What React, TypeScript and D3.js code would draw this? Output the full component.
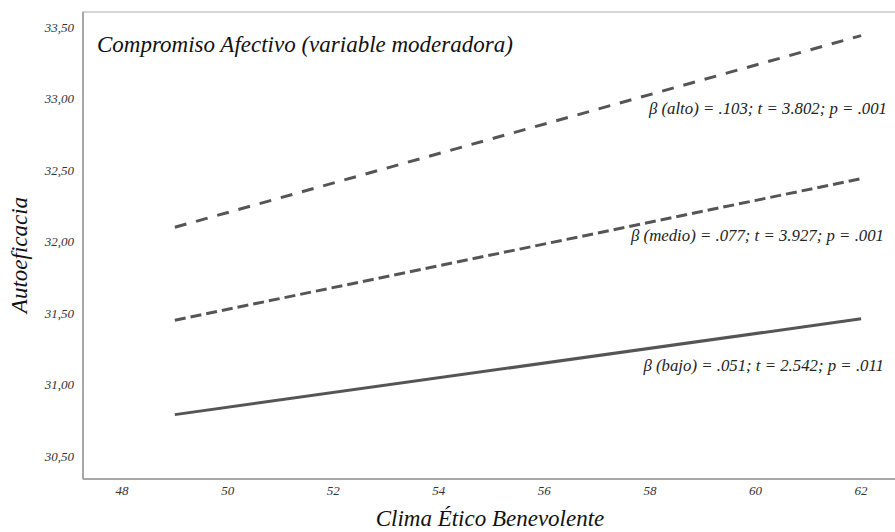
import { useEffect, useRef } from "react"
import * as d3 from "d3"

// values
const xTicks = [48, 50, 52, 54, 56, 58, 60, 62]
const yTicks = [30.5, 31.0, 31.5, 32.0, 32.5, 33.0, 33.5]
const xEnds = [49, 62]
const alto = [32.10, 33.44]
const medio = [31.45, 32.44]
const bajo = [30.79, 31.46]
const labels = [
  "β (alto) = .103; t = 3.802; p = .001",
  "β (medio) = .077; t = 3.927; p = .001",
  "β (bajo) = .051; t = 2.542; p = .011"
]

const App = () => {
  const svgRef = useRef<SVGSVGElement>(null)

  useEffect(() => {
    const svg = d3.select(svgRef.current)
    svg.selectAll("*").remove()

    const W = 895, H = 532
    const left = 83, top = 12, bottom = 479, right = 897
    const font = "'Liberation Serif', 'Times New Roman', serif"

    const x = d3.scaleLinear().domain([47.26, 62.68]).range([left, right])
    const y = d3.scaleLinear().domain([30.34, 33.605]).range([bottom, top])

    svg.attr("width", W).attr("height", H)

    // frame
    svg.append("rect")
      .attr("x", left).attr("y", top)
      .attr("width", right - left).attr("height", bottom - top)
      .attr("fill", "white").attr("stroke", "#c8c8c8").attr("stroke-width", 1.5)

    // left and bottom axis lines a bit darker
    svg.append("line").attr("x1", left).attr("x2", left).attr("y1", top).attr("y2", bottom)
      .attr("stroke", "#999").attr("stroke-width", 1.5)
    svg.append("line").attr("x1", left).attr("x2", right).attr("y1", bottom).attr("y2", bottom)
      .attr("stroke", "#999").attr("stroke-width", 1.5)

    // y tick labels
    svg.append("g").selectAll("text").data(yTicks).enter().append("text")
      .attr("x", left - 9).attr("y", d => y(d)).attr("dy", "0.35em")
      .attr("text-anchor", "end")
      .attr("font-family", font).attr("font-style", "italic").attr("font-size", 13)
      .attr("fill", "#333")
      .text(d => d3.format(".2f")(d).replace(".", ","))

    // x tick labels
    svg.append("g").selectAll("text").data(xTicks).enter().append("text")
      .attr("x", d => x(d)).attr("y", bottom + 16)
      .attr("text-anchor", "middle")
      .attr("font-family", font).attr("font-style", "italic").attr("font-size", 13)
      .attr("fill", "#333")
      .text(d => d)

    const line = d3.line<number>()
      .x((d, i) => x(xEnds[i]))
      .y(d => y(d))

    const series = [
      { vals: alto, dash: "12,10" },
      { vals: medio, dash: "11,5" },
      { vals: bajo, dash: null }
    ]
    series.forEach(s => {
      svg.append("path")
        .datum(s.vals)
        .attr("fill", "none")
        .attr("stroke", "#555")
        .attr("stroke-width", 3)
        .attr("stroke-dasharray", s.dash)
        .attr("d", line)
    })

    // annotations
    const annY = [114, 241, 371]
    svg.append("g").selectAll("text").data(labels).enter().append("text")
      .attr("x", (d, i) => i === 0 ? 887 : 884)
      .attr("y", (d, i) => annY[i])
      .attr("text-anchor", "end")
      .attr("font-family", font).attr("font-style", "italic").attr("font-size", 16.8)
      .attr("fill", "#222")
      .text(d => d)

    // title inside plot
    svg.append("text")
      .attr("x", 97).attr("y", 52)
      .attr("font-family", font).attr("font-style", "italic").attr("font-size", 23)
      .attr("fill", "#111")
      .text("Compromiso Afectivo (variable moderadora)")

    // axis titles
    svg.append("text")
      .attr("x", 490).attr("y", 526)
      .attr("text-anchor", "middle")
      .attr("font-family", font).attr("font-style", "italic").attr("font-size", 23)
      .attr("fill", "#111")
      .text("Clima Ético Benevolente")

    svg.append("text")
      .attr("transform", "translate(27,255) rotate(-90)")
      .attr("text-anchor", "middle")
      .attr("font-family", font).attr("font-style", "italic").attr("font-size", 23)
      .attr("fill", "#111")
      .text("Autoeficacia")
  }, [])

  return (
    <svg ref={svgRef} style={{ position: "absolute", left: 0, top: 0, display: "block" }} />
  )
}

export default App
